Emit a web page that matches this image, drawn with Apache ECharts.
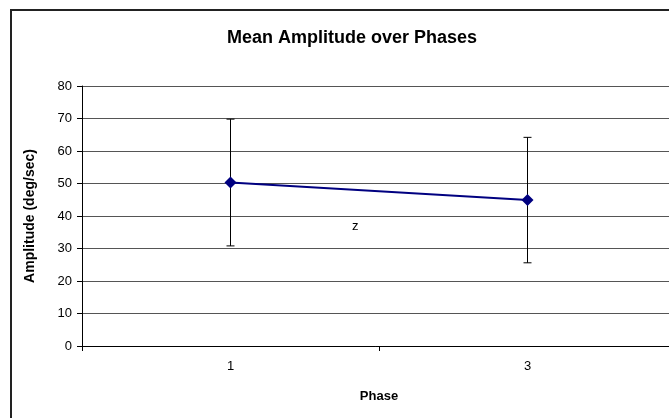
<!DOCTYPE html>
<html>
<head>
<meta charset="utf-8">
<script src="https://cdn.jsdelivr.net/npm/echarts@6/dist/echarts.min.js"></script>
<style>
  html, body { margin: 0; padding: 0; background: #fff; }
  #chart { width: 669px; height: 418px; }
</style>
</head>
<body>
<div id="chart"></div>
<script>
// Phases on the category axis
const phases = ['1', '3'];
// Mean amplitude per phase (deg/sec)
const meanAmplitude = [50.3, 44.9];
// Error bar half-length per phase
const amplitudeError = [19.5, 19.3];
// Value axis ticks
const yTicks = [0, 10, 20, 30, 40, 50, 60, 70, 80];
// Free-floating note on the plot
const noteText = 'z';

const FONT = '"Liberation Sans", Arial, sans-serif';

const errorData = phases.map((p, i) => [
  i,
  meanAmplitude[i] - amplitudeError[i],
  meanAmplitude[i] + amplitudeError[i]
]);

const chart = echarts.init(document.getElementById('chart'), null, { renderer: 'canvas' });

chart.setOption({
  backgroundColor: '#fff',
  animation: false,
  textStyle: { fontFamily: FONT },
  title: {
    text: 'Mean Amplitude over Phases',
    left: 347,
    top: 24,
    textAlign: 'center',
    textStyle: { fontFamily: FONT, fontSize: 18, fontWeight: 'bold', color: '#000' }
  },
  graphic: [
    {
      type: 'rect',
      shape: { x: 11, y: 10, width: 720, height: 480 },
      style: { fill: 'none', stroke: '#222', lineWidth: 2 },
      silent: true,
      z: 0
    },
    {
      type: 'text',
      left: 352,
      top: 220,
      style: { text: noteText, font: '13px ' + FONT, fill: '#000' },
      z: 10
    }
  ],
  grid: {
    left: 82, width: 594, top: 86, height: 260,
    containLabel: false,
    outerBoundsMode: 'none'
  },
  xAxis: {
    type: 'category',
    data: phases,
    boundaryGap: true,
    name: 'Phase',
    nameLocation: 'middle',
    nameGap: 44,
    nameTextStyle: { fontFamily: FONT, fontSize: 13, fontWeight: 'bold', color: '#000' },
    axisLine: { lineStyle: { color: '#000', width: 1 } },
    axisTick: { show: true, alignWithLabel: false, length: 5, inside: false, lineStyle: { color: '#000' } },
    axisLabel: { fontFamily: FONT, fontSize: 13, color: '#000', margin: 14 },
    splitLine: { show: false }
  },
  yAxis: {
    type: 'value',
    min: yTicks[0],
    max: yTicks[yTicks.length - 1],
    interval: yTicks[1] - yTicks[0],
    name: 'Amplitude (deg/sec)',
    nameLocation: 'middle',
    nameRotate: 90,
    nameGap: 45,
    nameTextStyle: { fontFamily: FONT, fontSize: 14, fontWeight: 'bold', color: '#000' },
    axisLine: { show: true, lineStyle: { color: '#000', width: 1 } },
    axisTick: { show: true, length: 5, lineStyle: { color: '#000' } },
    axisLabel: { fontFamily: FONT, fontSize: 13, color: '#000', margin: 10 },
    splitLine: { show: true, lineStyle: { color: '#555', width: 1 } }
  },
  series: [
    {
      type: 'custom',
      name: 'error',
      data: errorData,
      z: 2,
      renderItem: function (params, api) {
        const x = api.value(0);
        const lo = api.coord([x, api.value(1)]);
        const hi = api.coord([x, api.value(2)]);
        const cap = 4;
        const style = { stroke: '#000', lineWidth: 1 };
        return {
          type: 'group',
          children: [
            { type: 'line', shape: { x1: hi[0], y1: hi[1], x2: lo[0], y2: lo[1] }, style },
            { type: 'line', shape: { x1: hi[0] - cap, y1: hi[1], x2: hi[0] + cap, y2: hi[1] }, style },
            { type: 'line', shape: { x1: lo[0] - cap, y1: lo[1], x2: lo[0] + cap, y2: lo[1] }, style }
          ]
        };
      }
    },
    {
      type: 'line',
      name: 'Mean Amplitude',
      data: meanAmplitude,
      z: 3,
      symbol: 'diamond',
      symbolSize: 12,
      itemStyle: { color: '#000080' },
      lineStyle: { color: '#000080', width: 2 }
    }
  ]
});
</script>
</body>
</html>
